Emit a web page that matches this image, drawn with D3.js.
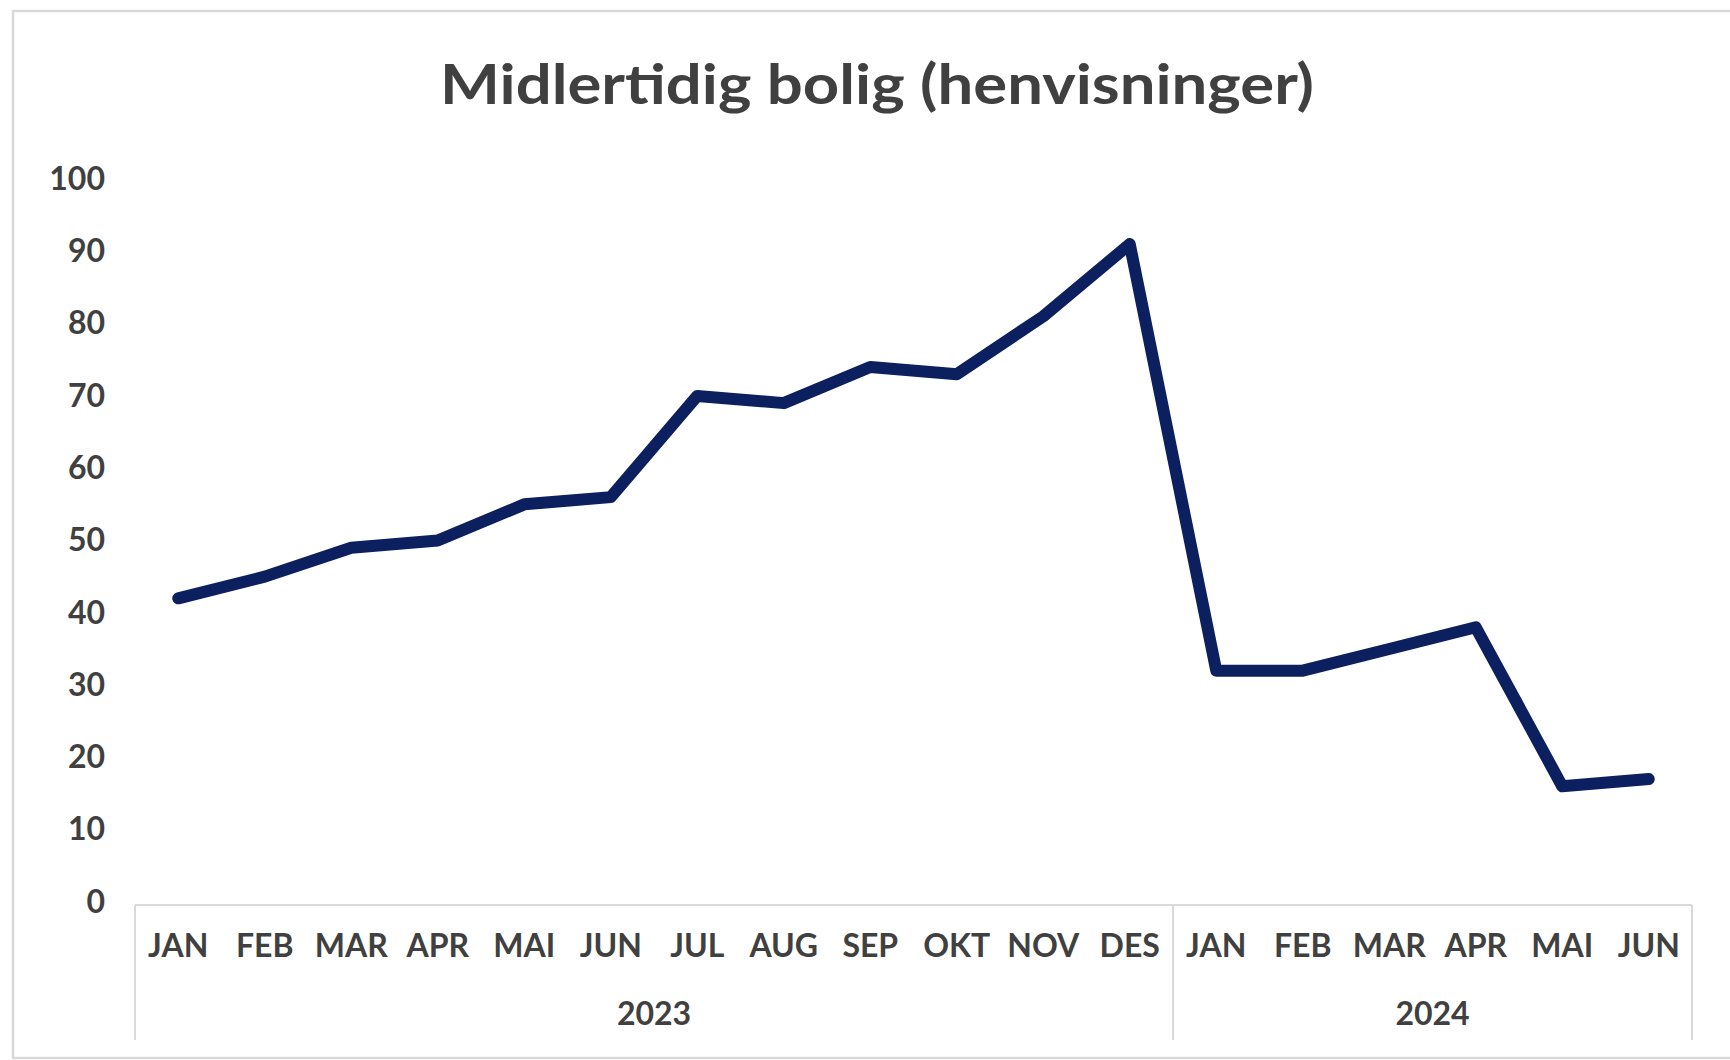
<!DOCTYPE html>
<html>
<head>
<meta charset="utf-8">
<script src="https://cdn.jsdelivr.net/npm/d3@7"></script>
<style>
  html, body { margin: 0; padding: 0; background: #fff; }
  svg { display: block; }
  text { font-family: Lato, "Open Sans", sans-serif; font-weight: 700; fill: #404040; }
</style>
</head>
<body>
<div id="chart"></div>
<script>
// Data
const months2023 = ["JAN", "FEB", "MAR", "APR", "MAI", "JUN", "JUL", "AUG", "SEP", "OKT", "NOV", "DES"];
const months2024 = ["JAN", "FEB", "MAR", "APR", "MAI", "JUN"];
const years = ["2023", "2024"];
const values2023 = [42, 45, 49, 50, 55, 56, 70, 69, 74, 73, 81, 91];
const values2024 = [32, 32, 35, 38, 16, 17];
const yTicks = [0, 10, 20, 30, 40, 50, 60, 70, 80, 90, 100];
const title = "Midlertidig bolig (henvisninger)";

const width = 1730;
const height = 1060;
const margin = { top: 179, right: 38, bottom: 155, left: 135 };

// one row per month, keyed by index so repeated labels stay distinct
const rows = [
  ...months2023.map((m, i) => ({ key: "2023-" + i, month: m, year: "2023", value: values2023[i] })),
  ...months2024.map((m, i) => ({ key: "2024-" + i, month: m, year: "2024", value: values2024[i] })),
];
const labelByKey = new Map(rows.map((r) => [r.key, r.month]));

const svg = d3
  .select("#chart")
  .append("svg")
  .attr("width", width)
  .attr("height", height);

// outer chart border
svg
  .append("rect")
  .attr("x", 13)
  .attr("y", 11)
  .attr("width", width + 20)
  .attr("height", 1047)
  .attr("fill", "none")
  .attr("stroke", "#d9d9d9")
  .attr("stroke-width", 2.5);

const x = d3
  .scaleBand()
  .domain(rows.map((r) => r.key))
  .range([margin.left, width - margin.right]);

const y = d3
  .scaleLinear()
  .domain([0, 100])
  .range([height - margin.bottom - 3, margin.top]);

// title (stretched to the width of the original's wider face)
svg
  .append("text")
  .attr("x", 877)
  .attr("y", 104)
  .attr("text-anchor", "middle")
  .attr("font-size", 55)
  .attr("textLength", 874)
  .attr("lengthAdjust", "spacingAndGlyphs")
  .text(title);

// y axis (labels only)
const yAxis = svg
  .append("g")
  .attr("transform", `translate(${margin.left},0)`)
  .call(d3.axisLeft(y).tickValues(yTicks).tickSize(0).tickPadding(30));
yAxis.select(".domain").remove();
yAxis.selectAll("text").attr("font-size", 32).attr("font-family", null).attr("fill", null);

// x axis: month labels under the category box top line
const axisY = y(0) + 3;
const xAxis = svg
  .append("g")
  .attr("transform", `translate(0,${axisY})`)
  .call(d3.axisBottom(x).tickSize(0).tickPadding(29).tickFormat((k) => labelByKey.get(k)));
xAxis.select(".domain").remove();
xAxis.selectAll("text").attr("font-size", 32).attr("font-family", null).attr("fill", null);

const boxBottom = 1040;
svg
  .append("line")
  .attr("x1", x.range()[0])
  .attr("x2", x.range()[1])
  .attr("y1", axisY)
  .attr("y2", axisY)
  .attr("stroke", "#d9d9d9")
  .attr("stroke-width", 2);

// year groups: separators and centered year labels
const groups = years.map((yr) => {
  const keys = rows.filter((r) => r.year === yr).map((r) => r.key);
  const x0 = x(keys[0]);
  const x1 = x(keys[keys.length - 1]) + x.bandwidth();
  return { year: yr, x0, x1 };
});

const sepX = [groups[0].x0, ...groups.map((g) => g.x1)];
svg
  .append("g")
  .selectAll("line")
  .data(sepX)
  .join("line")
  .attr("x1", (d) => d)
  .attr("x2", (d) => d)
  .attr("y1", axisY)
  .attr("y2", boxBottom)
  .attr("stroke", "#d9d9d9")
  .attr("stroke-width", 2);

svg
  .append("g")
  .selectAll("text")
  .data(groups)
  .join("text")
  .attr("x", (d) => (d.x0 + d.x1) / 2)
  .attr("y", 1025)
  .attr("text-anchor", "middle")
  .attr("font-size", 32)
  .text((d) => d.year);

// the series line
const line = d3
  .line()
  .x((d) => x(d.key) + x.bandwidth() / 2)
  .y((d) => y(d.value));

svg
  .append("path")
  .datum(rows)
  .attr("d", line)
  .attr("fill", "none")
  .attr("stroke", "#0c1f5e")
  .attr("stroke-width", 12)
  .attr("stroke-linejoin", "round")
  .attr("stroke-linecap", "round");
</script>
</body>
</html>
